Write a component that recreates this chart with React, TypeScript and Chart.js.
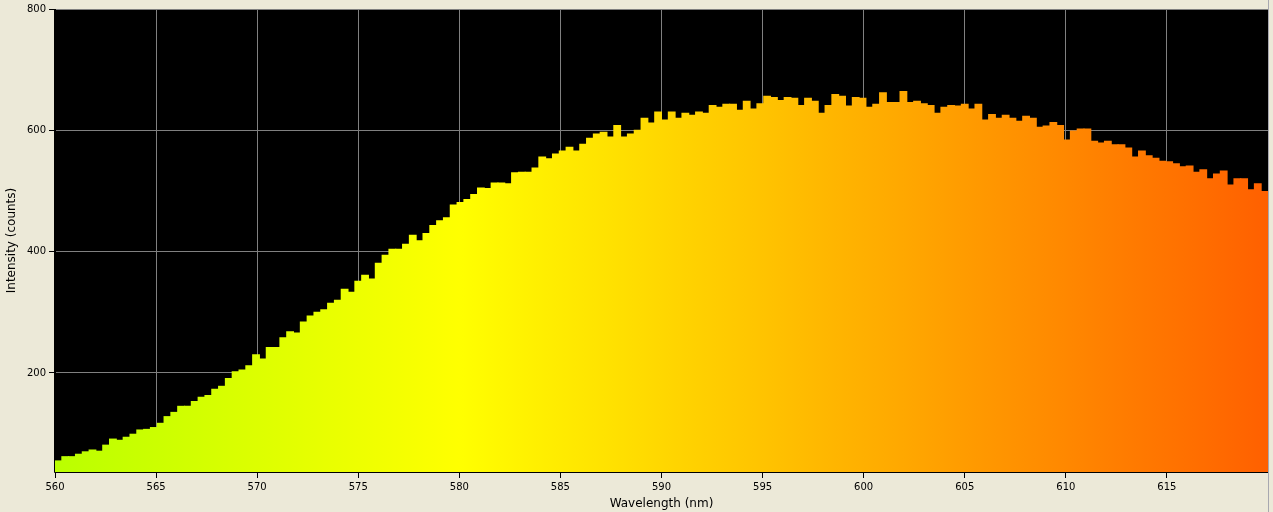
import { useEffect, useRef } from 'react';
import { Chart, registerables } from 'chart.js';

Chart.register(...registerables);

const WL_MIN = 560;
const WL_MAX = 620;
const Y_MIN = 36.7;
const Y_MAX = 800;
const X_TICKS = [560, 565, 570, 575, 580, 585, 590, 595, 600, 605, 610, 615];
const Y_TICKS = [200, 400, 600, 800];
const X_TITLE = 'Wavelength (nm)';
const Y_TITLE = 'Intensity (counts)';

const intensity = [
  55, 62, 62, 66, 70, 73, 71, 81, 91, 89,
  94, 99, 106, 107, 110, 117, 128, 135, 145, 145,
  153, 160, 163, 173, 178, 191, 202, 205, 212, 230,
  223, 242, 242, 258, 268, 266, 284, 294, 300, 304,
  315, 320, 338, 333, 351, 361, 355, 381, 394, 404,
  404, 412, 427, 418, 430, 443, 451, 456, 477, 481,
  486, 494, 505, 504, 513, 513, 512, 530, 531, 531,
  538, 556, 553, 561, 566, 572, 566, 577, 587, 594,
  597, 589, 608, 589, 594, 600, 620, 612, 630, 617,
  630, 620, 628, 625, 630, 628, 641, 638, 643, 643,
  633, 648, 635, 644, 656, 654, 649, 654, 653, 641,
  653, 648, 628, 641, 659, 656, 640, 654, 653, 638,
  643, 662, 646, 646, 664, 646, 648, 644, 641, 628,
  638, 641, 640, 643, 635, 643, 617, 626, 620, 625,
  620, 615, 623, 620, 605, 607, 613, 608, 584, 599,
  602, 602, 582, 579, 582, 576, 576, 571, 556, 566,
  558, 554, 549, 548, 545, 540, 541, 531, 535, 520,
  528, 533, 510, 520, 520, 502, 512, 499,
];

const wavelengths = intensity.map((_, i) =>
  (WL_MIN + ((i + 0.5) * (WL_MAX - WL_MIN)) / intensity.length).toFixed(2)
);

const GRADIENT_STOPS: [number, string][] = [
  [0, 'rgb(186,255,0)'],
  [1 / 3, 'rgb(255,255,0)'],
  [1, 'rgb(255,96,0)'],
];

const tickFont = { family: '"DejaVu Sans", sans-serif', size: 10 };
const titleFont = { family: '"DejaVu Sans", sans-serif', size: 12 };

export default function App() {
  const canvasRef = useRef<HTMLCanvasElement | null>(null);

  useEffect(() => {
    const canvas = canvasRef.current;
    if (!canvas) return;

    const backgroundPlugin = {
      id: 'bgPlugin',
      beforeDraw(chart: any) {
        const { ctx, chartArea, width, height } = chart;
        ctx.save();
        ctx.fillStyle = '#ECE9D8';
        ctx.fillRect(0, 0, width, height);
        if (chartArea) {
          ctx.fillStyle = '#000000';
          ctx.fillRect(chartArea.left, chartArea.top, chartArea.right - chartArea.left, chartArea.bottom - chartArea.top);
        }
        ctx.restore();
      },
      afterDatasetsDraw(chart: any) {
        const { ctx, chartArea } = chart;
        ctx.save();
        ctx.strokeStyle = '#000000';
        ctx.lineWidth = 1;
        ctx.beginPath();
        ctx.moveTo(Math.round(chartArea.left) - 0.5, chartArea.top);
        ctx.lineTo(Math.round(chartArea.left) - 0.5, Math.round(chartArea.bottom) + 0.5);
        ctx.lineTo(chartArea.right, Math.round(chartArea.bottom) + 0.5);
        ctx.stroke();
        ctx.strokeStyle = '#A8A8B0';
        ctx.beginPath();
        ctx.moveTo(Math.round(chartArea.right) + 0.5, 0);
        ctx.lineTo(Math.round(chartArea.right) + 0.5, chart.height);
        ctx.stroke();
        ctx.restore();
      },
    };

    let cachedGradient: CanvasGradient | null = null;
    let cachedKey = '';

    const chart = new Chart(canvas, {
      type: 'bar',
      data: {
        labels: wavelengths,
        datasets: [
          {
            data: intensity,
            xAxisID: 'x',
            yAxisID: 'y',
            barPercentage: 1,
            categoryPercentage: 1,
            borderWidth: 0,
            inflateAmount: 0.5,
            backgroundColor: (context: any) => {
              const ch = context.chart;
              const area = ch.chartArea;
              if (!area) return 'rgb(255,255,0)';
              const key = `${area.left}-${area.right}`;
              if (!cachedGradient || key !== cachedKey) {
                const g = ch.ctx.createLinearGradient(area.left, 0, area.right, 0);
                GRADIENT_STOPS.forEach(([p, c]) => g.addColorStop(p, c));
                cachedGradient = g;
                cachedKey = key;
              }
              return cachedGradient;
            },
          } as any,
        ],
      },
      options: {
        responsive: false,
        animation: false,
        devicePixelRatio: 1,
        layout: { padding: { left: 0, right: 5, top: 5, bottom: 0 } },
        plugins: {
          legend: { display: false },
          tooltip: { enabled: false },
        },
        scales: {
          x: {
            type: 'category',
            display: false,
            offset: true,
            grid: { display: false },
          },
          xw: {
            type: 'linear',
            position: 'bottom',
            min: WL_MIN,
            max: WL_MAX,
            offset: false,
            afterBuildTicks: (scale: any) => {
              scale.ticks = X_TICKS.map((v) => ({ value: v }));
            },
            afterFit: (scale: any) => {
              scale.height = 40;
            },
            ticks: {
              color: '#000000',
              font: tickFont,
              padding: 3,
              maxRotation: 0,
              autoSkip: false,
              callback: (v: any) => String(v),
            },
            grid: {
              offset: false,
              color: '#808080',
              tickColor: '#000000',
              tickLength: 6,
              lineWidth: 1,
            },
            border: { display: true, color: '#000000' },
            title: {
              display: true,
              text: X_TITLE,
              color: '#000000',
              font: titleFont,
              padding: { top: 0, bottom: 1 },
            },
          },
          y: {
            type: 'linear',
            min: Y_MIN,
            max: Y_MAX,
            afterBuildTicks: (scale: any) => {
              scale.ticks = Y_TICKS.map((v) => ({ value: v }));
            },
            afterFit: (scale: any) => {
              scale.width = 55;
            },
            ticks: {
              color: '#000000',
              font: tickFont,
              padding: 3,
              callback: (v: any) => String(v),
            },
            grid: {
              color: '#808080',
              tickColor: '#000000',
              tickLength: 6,
              lineWidth: 1,
            },
            border: { display: true, color: '#000000' },
            title: {
              display: true,
              text: Y_TITLE,
              color: '#000000',
              font: titleFont,
              padding: { top: 5, bottom: 0 },
            },
          },
        },
      } as any,
      plugins: [backgroundPlugin],
    });

    return () => {
      chart.destroy();
    };
  }, []);

  return (
    <div style={{ position: 'absolute', left: 0, top: 0, width: 1273, height: 512, background: '#ECE9D8' }}>
      <canvas ref={canvasRef} width={1273} height={512} style={{ display: 'block' }} />
    </div>
  );
}
